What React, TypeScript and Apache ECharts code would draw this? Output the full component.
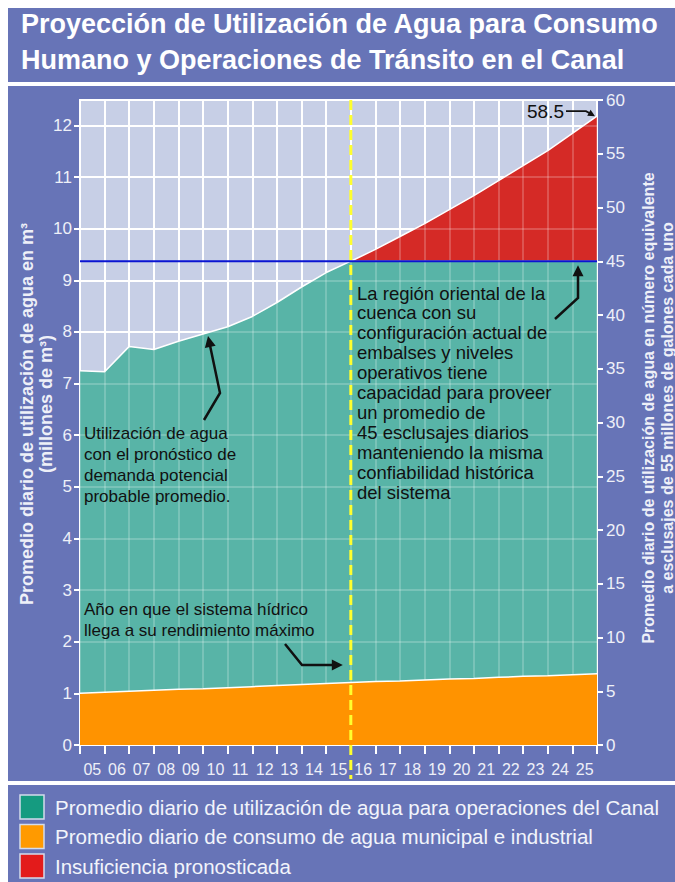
import { useEffect, useRef } from "react";
import * as echarts from "echarts";

// Fiscal years along the bottom axis (one band per year)
const YEARS = ["05", "06", "07", "08", "09", "10", "11", "12", "13", "14", "15", "16", "17", "18", "19", "20", "21", "22", "23", "24", "25"];

// Total daily demand (municipal + Canal), millions of m³, at each year boundary up to the peak year
const TOTAL_DEMAND_M3 = [7.25, 7.23, 7.72, 7.66, 7.82, 7.96, 8.1, 8.3, 8.57, 8.87, 9.15, 9.37];

// Projected total demand after the peak, in lockage equivalents (55 million gallons each)
const FORECAST_LOCKAGES = [45, 46.1, 47.3, 48.5, 49.8, 51.1, 52.5, 53.9, 55.3, 56.9, 58.5];

// Municipal and industrial consumption, millions of m³
const MUNICIPAL_M3 = [1.0, 1.02, 1.04, 1.06, 1.08, 1.09, 1.11, 1.13, 1.15, 1.17, 1.19, 1.21, 1.23, 1.24, 1.26, 1.28, 1.29, 1.31, 1.33, 1.34, 1.36, 1.38];

const LEFT_TICKS = [0, 1, 2, 3, 4, 5, 6, 7, 8, 9, 10, 11, 12];
const RIGHT_MAX = 60;
const RIGHT_STEP = 5;
const CAPACITY_LOCKAGES = 45;
const PEAK_INDEX = 11;
// one lockage = 55 million gallons, expressed in millions of m³
const M3_PER_LOCKAGE = (55 * 3.785411784) / 1000;

const TITLE = ["Proyección de Utilización de Agua para Consumo", "Humano y Operaciones de Tránsito en el Canal"];
const LEFT_NAME = ["Promedio diario de utilización de agua en m³", "(millones de m³)"];
const RIGHT_NAME = ["Promedio diario de utilización de agua en número equivalente", "a esclusajes de 55 millones de galones cada uno"];
const NOTE_DEMAND = ["Utilización de agua", "con el pronóstico de", "demanda potencial", "probable promedio."];
const NOTE_PEAK = ["Año en que el sistema hídrico", "llega a su rendimiento máximo"];
const NOTE_CAPACITY = [
  "La región oriental de la",
  "cuenca con su",
  "configuración actual de",
  "embalses y niveles",
  "operativos tiene",
  "capacidad para proveer",
  "un promedio de",
  "45 esclusajes diarios",
  "manteniendo la misma",
  "confiabilidad histórica",
  "del sistema",
];
const LEGEND = [
  { name: "Promedio diario de utilización de agua para operaciones del Canal", color: "#159b80" },
  { name: "Promedio diario de consumo de agua municipal e industrial", color: "#ff9a00" },
  { name: "Insuficiencia pronosticada", color: "#e31b1b" },
];

const FONT = "'Liberation Sans', Arial, Helvetica, sans-serif";
const PANEL = "#6774b7";
const PLOT_BG = "#c7cfe6";
const TEAL = "#58b4a7";
const ORANGE = "#ff9300";
const RED = "#d52a26";
const AXIS_TEXT = "#eef0f8";
const INK = "#111111";

const GRID = { left: 80, right: 78, top: 100, bottom: 137 };
const LAST = YEARS.length;

function textLines(lines: string[], x: number, y0: number, step: number, size: number, color: string, weight = "normal") {
  return lines.map((t, i) => ({
    type: "text",
    z: 100,
    x,
    y: y0 + i * step,
    style: { text: t, fill: color, font: `${weight} ${size}px ${FONT}`, align: "left", verticalAlign: "middle" },
  }));
}

function rotatedText(t: string, x: number, y: number, size: number) {
  return {
    type: "text",
    z: 100,
    x,
    y,
    rotation: Math.PI / 2,
    style: { text: t, fill: AXIS_TEXT, font: `bold ${size}px ${FONT}`, align: "center", verticalAlign: "middle" },
  };
}

function arrow(points: number[][], width = 2.5, len = 11, half = 5.5) {
  const tip = points[points.length - 1];
  const from = points[points.length - 2];
  const dx = tip[0] - from[0];
  const dy = tip[1] - from[1];
  const d = Math.hypot(dx, dy);
  const ux = dx / d;
  const uy = dy / d;
  const bx = tip[0] - ux * len;
  const by = tip[1] - uy * len;
  const shaft = points.slice(0, -1).concat([[bx + ux * 2, by + uy * 2]]);
  return [
    { type: "polyline", z: 100, shape: { points: shaft }, style: { stroke: INK, lineWidth: width, fill: null, lineJoin: "miter" } },
    {
      type: "polygon",
      z: 100,
      shape: { points: [tip, [bx - uy * half, by + ux * half], [bx + uy * half, by - ux * half]] },
      style: { fill: INK },
    },
  ];
}

function buildOption() {
  const capacityM3 = CAPACITY_LOCKAGES * M3_PER_LOCKAGE;
  const tealData = YEARS.concat([""]).map((_, i) => [i, i <= PEAK_INDEX ? TOTAL_DEMAND_M3[i] : capacityM3]);
  const redData = FORECAST_LOCKAGES.map((v, k) => [PEAK_INDEX + k, v]);
  const orangeData = MUNICIPAL_M3.map((v, i) => [i, v]);
  const leftMax = RIGHT_MAX * M3_PER_LOCKAGE;
  const white = "#ffffff";
  const faint = "rgba(255,255,255,0.2)";

  return {
    animation: false,
    backgroundColor: PANEL,
    textStyle: { fontFamily: FONT },
    grid: [
      { ...GRID, show: true, backgroundColor: PLOT_BG, borderColor: white, borderWidth: 2 },
      { ...GRID, show: false },
    ],
    xAxis: [
      {
        type: "value",
        gridIndex: 0,
        position: "bottom",
        min: 0,
        max: LAST,
        interval: 1,
        axisLine: { show: true, lineStyle: { color: white, width: 2 } },
        axisTick: { show: true, length: 9, lineStyle: { color: white, width: 2 } },
        axisLabel: { show: false },
        splitLine: { show: true, lineStyle: { color: white, width: 2 } },
      },
      {
        type: "category",
        gridIndex: 0,
        position: "bottom",
        data: YEARS,
        boundaryGap: true,
        axisLine: { show: false },
        axisTick: { show: false },
        axisLabel: { color: AXIS_TEXT, fontSize: 16, fontFamily: FONT, margin: 16 },
        splitLine: { show: false },
      },
      {
        type: "value",
        gridIndex: 1,
        min: 0,
        max: LAST,
        interval: 1,
        z: 3,
        axisLine: { show: false },
        axisTick: { show: false },
        axisLabel: { show: false },
        splitLine: { show: true, lineStyle: { color: faint, width: 2 } },
      },
    ],
    yAxis: [
      {
        type: "value",
        gridIndex: 0,
        position: "left",
        min: 0,
        max: leftMax,
        interval: 1,
        axisLine: { show: true, lineStyle: { color: white, width: 2 } },
        axisTick: { show: true, length: 6, customValues: LEFT_TICKS, lineStyle: { color: white, width: 2 } },
        axisLabel: {
          color: AXIS_TEXT,
          fontSize: 17,
          fontFamily: FONT,
          margin: 8,
          customValues: LEFT_TICKS,
          formatter: (v: number) => (Math.abs(v - Math.round(v)) < 1e-6 ? String(Math.round(v)) : ""),
        },
        splitLine: { show: true, lineStyle: { color: white, width: 2 } },
      },
      {
        type: "value",
        gridIndex: 0,
        position: "right",
        min: 0,
        max: RIGHT_MAX,
        interval: RIGHT_STEP,
        axisLine: { show: true, lineStyle: { color: white, width: 2 } },
        axisTick: { show: true, length: 6, lineStyle: { color: white, width: 2 } },
        axisLabel: { color: AXIS_TEXT, fontSize: 17, fontFamily: FONT, margin: 9 },
        splitLine: { show: false },
      },
      {
        type: "value",
        gridIndex: 1,
        min: 0,
        max: leftMax,
        interval: 1,
        z: 3,
        axisLine: { show: false },
        axisTick: { show: false },
        axisLabel: { show: false },
        splitLine: { show: true, lineStyle: { color: faint, width: 2 } },
      },
    ],
    series: [
      {
        name: "Insuficiencia pronosticada",
        type: "line",
        xAxisIndex: 0,
        yAxisIndex: 1,
        z: 2,
        data: redData,
        symbol: "none",
        lineStyle: { color: white, width: 1.5 },
        areaStyle: { color: RED, opacity: 1 },
      },
      {
        name: "Canal",
        type: "line",
        xAxisIndex: 0,
        yAxisIndex: 0,
        z: 2,
        data: tealData,
        symbol: "none",
        lineStyle: { color: white, width: 1.5 },
        areaStyle: { color: TEAL, opacity: 1 },
      },
      {
        name: "Municipal e industrial",
        type: "line",
        xAxisIndex: 0,
        yAxisIndex: 0,
        z: 4,
        data: orangeData,
        symbol: "none",
        lineStyle: { color: white, width: 1.5 },
        areaStyle: { color: ORANGE, opacity: 1 },
      },
      {
        name: "Capacidad",
        type: "line",
        xAxisIndex: 0,
        yAxisIndex: 1,
        z: 5,
        data: [
          [0, CAPACITY_LOCKAGES],
          [LAST, CAPACITY_LOCKAGES],
        ],
        symbol: "none",
        lineStyle: { color: "#0a14d2", width: 2 },
      },
    ],
  };
}

export default function App() {
  const ref = useRef<HTMLDivElement>(null);

  useEffect(() => {
    const chart = echarts.init(ref.current as HTMLDivElement, null, { renderer: "svg" });
    chart.setOption(buildOption() as any);

    // Annotation geometry anchored on the plotted data
    const peakTop = chart.convertToPixel({ seriesIndex: 0 } as any, [PEAK_INDEX, RIGHT_MAX]) as number[];
    const peakBottom = chart.convertToPixel({ seriesIndex: 0 } as any, [PEAK_INDEX, 0]) as number[];
    const lastValue = FORECAST_LOCKAGES[FORECAST_LOCKAGES.length - 1];
    const lastPt = chart.convertToPixel({ seriesIndex: 0 } as any, [PEAK_INDEX + FORECAST_LOCKAGES.length - 1, lastValue]) as number[];
    const capPt = chart.convertToPixel({ seriesIndex: 0 } as any, [0, CAPACITY_LOCKAGES]) as number[];

    const W = 675;
    const H = 882;
    const whites = [
      { x: 0, y: 0, width: W, height: 8 },
      { x: 0, y: 0, width: 8, height: H },
      { x: 8, y: 82, width: W - 8, height: 4 },
      { x: 8, y: 781, width: W - 8, height: 4 },
    ].map((s) => ({ type: "rect", z: 100, shape: s, style: { fill: "#ffffff" } }));

    const labelY = lastPt[1] - 5;
    const graphic: any[] = [
      ...whites,
      // title
      ...textLines(TITLE, 21, 24, 36, 27, "#ffffff", "bold"),
      // axis names
      rotatedText(LEFT_NAME[0], 27, 414, 18),
      rotatedText(LEFT_NAME[1], 46, 404, 18),
      rotatedText(RIGHT_NAME[0], 648, 408, 16),
      rotatedText(RIGHT_NAME[1], 667, 408, 16),
      // peak-year marker
      {
        type: "line",
        z: 100,
        shape: { x1: peakTop[0], y1: peakTop[1], x2: peakBottom[0], y2: peakBottom[1] + 34 },
        style: { stroke: "#ffff2e", lineWidth: 3, lineDash: [10, 5] },
      },
      // notes
      ...textLines(NOTE_DEMAND, 84, 433, 21, 17, INK),
      ...arrow([
        [204, 420],
        [220, 393],
        [208, 336],
      ]),
      ...textLines(NOTE_PEAK, 84, 609, 21, 17, INK),
      ...arrow([
        [285, 644],
        [302, 665],
        [peakTop[0] - 8, 665],
      ]),
      ...textLines(NOTE_CAPACITY, 357, 293, 19.9, 18.5, INK),
      ...arrow([
        [555, 319],
        [578, 298],
        [578, capPt[1] + 4],
      ]),
      {
        type: "text",
        z: 100,
        x: lastPt[0] - 33,
        y: labelY,
        style: { text: String(lastValue), fill: INK, font: `19px ${FONT}`, align: "right", verticalAlign: "middle" },
      },
      ...arrow(
        [
          [lastPt[0] - 31, labelY],
          [lastPt[0] - 11, labelY],
          [lastPt[0] - 2, lastPt[1]],
        ],
        1.8,
        7,
        3.5
      ),
      // legend
      ...LEGEND.flatMap((item, i) => [
        {
          type: "rect",
          z: 100,
          shape: { x: 20, y: 795 + i * 29.5, width: 24, height: 24 },
          style: { fill: item.color, stroke: "#d3dcec", lineWidth: 1.5 },
        },
        {
          type: "text",
          z: 100,
          x: 55,
          y: 807 + i * 29.5,
          style: { text: item.name, fill: "#f2f4fb", font: `20.5px ${FONT}`, align: "left", verticalAlign: "middle" },
        },
      ]),
    ];

    chart.setOption({ graphic });
    return () => chart.dispose();
  }, []);

  return <div ref={ref} style={{ position: "absolute", left: 0, top: 0, width: 675, height: 882 }} />;
}
